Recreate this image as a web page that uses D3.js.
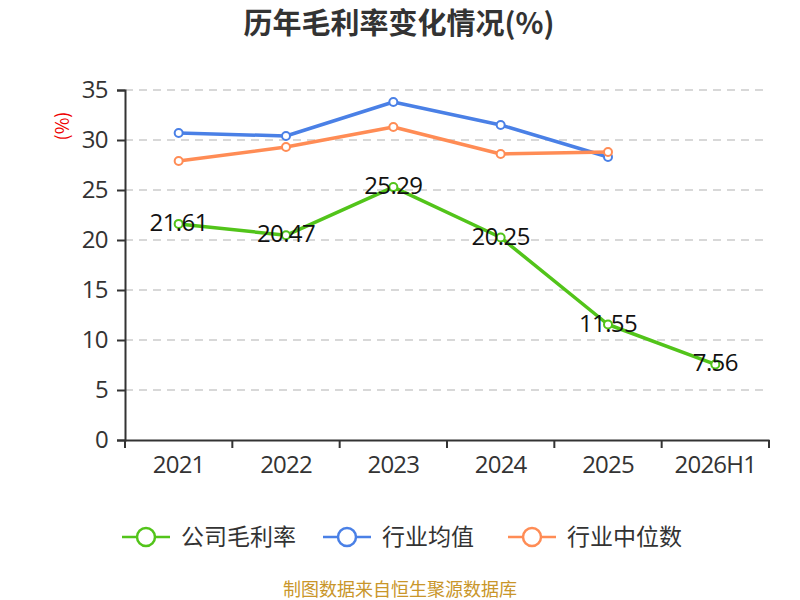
<!DOCTYPE html>
<html><head><meta charset="utf-8">
<script src="https://cdn.jsdelivr.net/npm/d3@7"></script>
<style>body{margin:0;background:#fff;}svg{display:block;}text{font-family:"Noto Sans CJK SC","Noto Sans",sans-serif;}</style>
</head><body>
<svg id="c" width="800" height="600"></svg>
<script>
const categories = ["2021","2022","2023","2024","2025","2026H1"];
const companyMargin = [21.61,20.47,25.29,20.25,11.55,7.56];
const industryAvg = [30.7,30.4,33.8,31.5,28.3,null];
const industryMedian = [27.9,29.3,31.3,28.6,28.8,null];
const yTicks = [0,5,10,15,20,25,30,35];
const seriesNames = ["公司毛利率","行业均值","行业中位数"];
const colors = ["#52c41a","#4a80e6","#ff8c55"];

const svg = d3.select("#c");
const L=125,R=769,T=90,B=440;
const numFont = "'Open Sans','Noto Sans',sans-serif";
const x = d3.scaleBand().domain(categories).range([L,R]);
const y = d3.scaleLinear().domain([0,35]).range([B,T]);

svg.append("text").attr("x",399).attr("y",34).attr("text-anchor","middle")
  .attr("font-size",29).attr("font-weight","bold").attr("fill","#333").text("历年毛利率变化情况(%)");

// grid
svg.append("g").selectAll("line").data(yTicks.filter(d=>d>0)).join("line")
  .attr("x1",L).attr("x2",R).attr("y1",d=>y(d)).attr("y2",d=>y(d))
  .attr("stroke","#ccc").attr("stroke-width",1.5).attr("stroke-dasharray","8,6");

// y axis
const ya = svg.append("g").attr("transform",`translate(${L},0)`)
  .call(d3.axisLeft(y).tickValues(yTicks).tickSize(8).tickPadding(9));
ya.select(".domain").attr("stroke","#333").attr("stroke-width",2);
ya.selectAll(".tick line").attr("stroke","#333").attr("stroke-width",2);
ya.selectAll(".tick text").attr("font-size",24).attr("letter-spacing","-0.6").attr("fill","#333").style("font-family",numFont);

// x axis
const xa = svg.append("g").attr("transform",`translate(0,${B})`)
  .call(d3.axisBottom(x).tickSize(0).tickPadding(16));
xa.select(".domain").attr("stroke","#333").attr("stroke-width",2);
xa.selectAll(".tick text").attr("font-size",24).attr("letter-spacing","-0.8").attr("fill","#333").style("font-family",numFont);
xa.append("g").selectAll("line").data(d3.range(categories.length+1)).join("line")
  .attr("x1",i=>L+i*x.step()).attr("x2",i=>L+i*x.step()).attr("y1",0).attr("y2",8)
  .attr("stroke","#333").attr("stroke-width",2);

svg.append("text").attr("transform",`translate(69,126) rotate(-90)`).attr("text-anchor","middle")
  .attr("font-size",18).attr("fill","#e00").text("(%)");

const cx = d=>x(d)+x.bandwidth()/2;
const allSeries=[companyMargin,industryAvg,industryMedian];
const line = d3.line().defined(d=>d[1]!=null).x(d=>cx(d[0])).y(d=>y(d[1]));
[1,2,0].forEach(si=>{
  const data = categories.map((c,i)=>[c,allSeries[si][i]]);
  svg.append("path").datum(data).attr("d",line).attr("fill","none")
    .attr("stroke",colors[si]).attr("stroke-width",3.5).attr("stroke-linejoin","round");
  svg.append("g").selectAll("circle").data(data.filter(d=>d[1]!=null)).join("circle")
    .attr("cx",d=>cx(d[0])).attr("cy",d=>y(d[1])).attr("r",4)
    .attr("fill","#fff").attr("stroke",colors[si]).attr("stroke-width",2);
});
svg.append("g").selectAll("text").data(categories.map((c,i)=>[c,companyMargin[i]])).join("text")
  .attr("x",d=>cx(d[0])).attr("y",d=>y(d[1])+7).attr("text-anchor","middle")
  .attr("font-size",24).attr("letter-spacing","-0.6").attr("fill","#111").style("font-family",numFont)
  .text(d=>d[1].toFixed(2));

// legend
const legX=[122,323,508];
seriesNames.forEach((n,i)=>{
  const g=svg.append("g").attr("transform",`translate(${legX[i]},537)`);
  g.append("line").attr("x1",0).attr("x2",48).attr("y1",0).attr("y2",0).attr("stroke",colors[i]).attr("stroke-width",2.5);
  g.append("circle").attr("cx",24).attr("cy",0).attr("r",9).attr("fill","#fff").attr("stroke",colors[i]).attr("stroke-width",2.5);
  g.append("text").attr("x",59).attr("y",8).attr("font-size",23).attr("fill","#333").text(n);
});

svg.append("text").attr("x",400).attr("y",596).attr("text-anchor","middle")
  .attr("font-size",18).attr("fill","#c9962a").text("制图数据来自恒生聚源数据库");
</script>
</body></html>
